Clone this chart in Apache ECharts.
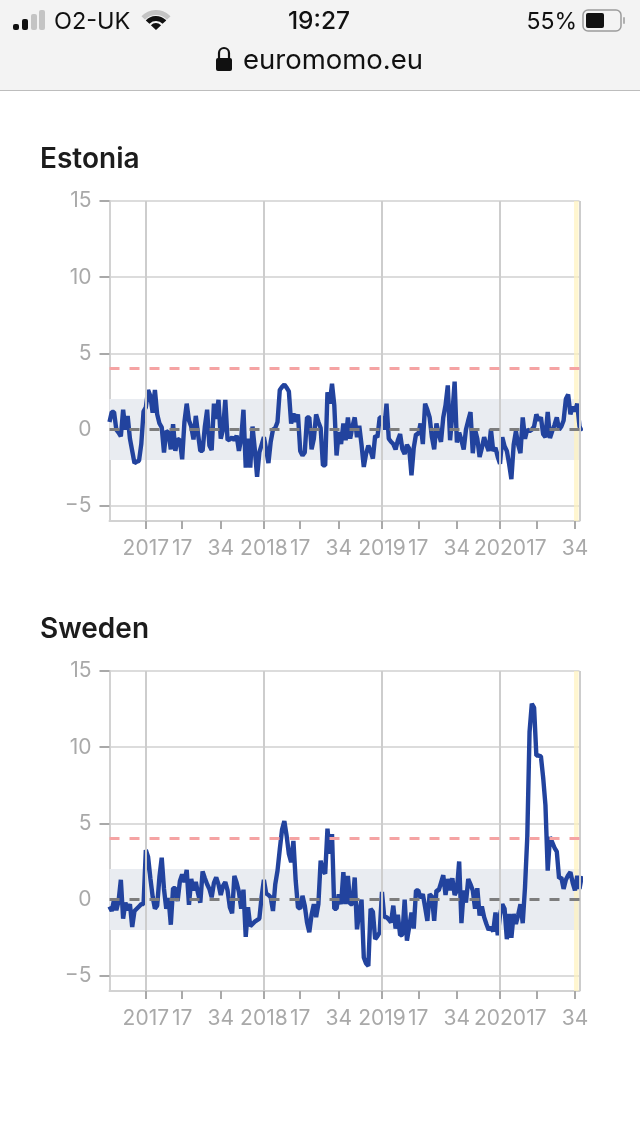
<!DOCTYPE html>
<html>
<head>
<meta charset="utf-8">
<title>euromomo</title>
<script src="https://cdn.jsdelivr.net/npm/echarts@6/dist/echarts.min.js"></script>
<style>
  html, body { margin: 0; padding: 0; background: #fff; }
  #chart { width: 640px; height: 1136px; }
</style>
</head>
<body>
<div id="chart"></div>
<script>
// z-scores per week, first point is 2016 week 37
const estonia = [
  .5,1.15,1.15,0,-.2,-.45,1.3,0,.9,-.6,
  -1.4,-2.2,-2.1,-2.05,-.95,1.2,1.45,2.6,2.2,1.1,
  2.6,1,.4,.15,-1.5,-.1,-.2,-1.3,.35,-1.4,
  -.6,-.7,-1.95,.5,1.7,.6,.2,-.65,.9,-.3,
  -1.4,-1.4,.2,1.3,-1.05,-1.35,1.7,.7,1.95,-.6,
  0,1.95,-.7,-.65,-.5,-.7,-.4,-1.4,-.6,1.3,
  -2.5,-.6,-2.5,.2,-1.3,-3.1,-1.5,-1,-.5,-1.3,
  -2.2,-.8,0,.1,.5,2.6,2.8,2.95,2.75,2.5,
  .4,1.05,.5,1,-1.4,-1.7,-1.5,.8,.8,-1.3,
  -.6,1,.5,.1,-2.35,-2.35,2.45,1.7,3,1.6,
  -1.7,-.15,-.95,.4,-.7,.8,-.6,.2,.8,-.5,
  .25,-1,-2.45,-1.6,-1.05,-1.4,-1.9,-.4,-.5,.8,
  .8,0,1.7,-.6,-.8,-.95,-1.3,-.7,-.3,-1.3,
  -1.6,-1,-1.25,-3,-1.2,-.3,-.3,.4,-.95,1.7,
  1.3,.8,-.5,-1.3,.4,-.3,-.8,.8,1.6,2.9,
  -.7,1,3.15,-.85,-.2,-.7,-1.3,0,.6,1.15,
  -1.55,0,-.6,-1.8,-1.2,-.5,-1,-1.4,0,-1.4,
  -1.2,-1.8,-2.25,-.5,-1.1,-1.4,-2.25,-3.25,-1,-.1,
  -1,-1.55,.8,-.6,0,-.1,0,.2,1,.6,
  .8,-.3,-.5,1.15,-.55,-.1,.3,.8,0,.2,
  .6,2,2.3,1,1.5,1.2,1.7,.2,-.1
];
const sweden = [
  -.45,-.75,0,-.7,-.1,1.3,-1.25,-.2,-.7,-.3,
  -1.8,-.75,-.6,-.45,-.3,-.3,3.25,2.8,1.4,.2,
  -.6,-.4,1.5,2.75,.7,-.6,.1,-1.65,.75,.75,
  -.1,1.2,1.65,1.15,1.95,-.35,1.35,.6,1.15,.4,
  -.2,1.85,1.4,1,.7,.15,1.1,1.45,1,.3,
  .9,1.15,.6,-.5,-.9,1.55,1.1,.5,-.6,.65,
  -2.45,-.5,-1.75,-1.6,-1.45,-1.35,-1.25,.2,1.3,.4,
  .3,.15,-.75,1,1.9,3.3,4.6,5.15,4.2,3,
  2.45,3.85,1.25,-.5,-.6,.25,-.4,-1.5,-2.15,-1,
  -.3,-1.15,-.3,2.55,1.9,1.7,4.65,3,4.3,-.6,
  -.6,.35,-.3,1.8,-.3,1.55,-.3,-.3,1.45,-1.95,
  -.8,0,-3.8,-4.2,-4.35,-.6,-.8,-2.6,-2.4,-2.15,
  .5,-1.15,-1.15,-1.3,-1.5,-.4,-1.9,-1,-2.35,-2.3,
  0,-2.7,-1.8,-.85,-1.9,.6,.6,.1,.35,-.5,
  -1.4,.35,.2,-1.4,.6,.6,1.1,1.6,.3,1.35,
  .6,1.4,.3,.6,2.5,-1.55,.6,-.2,1.35,1,
  .6,-.6,.75,-1.05,-.45,-1.15,-1.6,-2,-1.8,-2.1,
  -.85,-2.35,-1,-.3,-.6,-2.6,-.95,-2.5,-.95,-1.6,
  -1,-.3,-1.55,.8,4.1,11,12.85,12.6,9.45,9.45,
  9.4,8,6.2,1.9,4.1,3.75,3.4,3.15,1.4,1.45,
  .7,1.3,1.6,1.8,1.1,.6,1.55,.7,1.55
];

const weekTicks = [16, 32, 49, 68, 84, 101, 120, 136, 153, 172, 188, 205];
const weekLabels = ['2017', '17', '34', '2018', '17', '34', '2019', '17', '34', '2020', '17', '34'];
const yearStarts = [16, 68, 120, 172];
const yLabels = [-5, 0, 5, 10, 15];
const yGrid = [-5, 5, 10, 15];
const baseline = 0;
const threshold = 4;
const normalBand = [-2, 2];
const currentWeeks = [205, 207];
const lastWeek = 207;

const FONT = 'Inter, "Noto Sans", sans-serif';
const TICK_GREY = '#a9a9a9';
const GRID_GREY = '#dcdcdc';

const panels = [
  { name: 'Estonia', values: estonia, top: 201 },
  { name: 'Sweden', values: sweden, top: 671 }
];

const grids = [], xAxes = [], yAxes = [], titles = [], series = [];

panels.forEach((p, k) => {
  grids.push({ left: 109.5, top: p.top, width: 470, height: 320 });
  titles.push({
    text: p.name, left: 35, top: p.top - 60,
    textStyle: { fontFamily: FONT, fontSize: 28, fontWeight: 600, color: '#1c1c1c' }
  });
  xAxes.push({
    type: 'value', gridIndex: k, min: 0, max: lastWeek,
    axisLine: { show: true, onZero: false, lineStyle: { color: '#d2d2d2', width: 2 } },
    axisTick: { show: true, customValues: weekTicks, length: 8, lineStyle: { color: TICK_GREY, width: 2 } },
    axisLabel: {
      customValues: weekTicks, margin: 17, hideOverlap: false,
      color: TICK_GREY, fontFamily: FONT, fontSize: 21,
      formatter: v => weekLabels[weekTicks.indexOf(v)]
    },
    splitLine: { show: false }
  });
  yAxes.push({
    type: 'value', gridIndex: k, min: -6, max: 15,
    axisLine: { show: true, onZero: false, lineStyle: { color: '#d2d2d2', width: 2 } },
    axisTick: { show: true, customValues: yGrid, length: 10, lineStyle: { color: TICK_GREY, width: 2 } },
    axisLabel: {
      customValues: yLabels, margin: 18, padding: [2, 0, 0, 0],
      color: TICK_GREY, fontFamily: FONT, fontSize: 21,
      formatter: v => String(v).replace('-', '\u2212')
    },
    splitLine: { show: true, lineStyle: { color: GRID_GREY, width: 2 } }
  });

  // year gridlines sit under the band
  series.push({
    type: 'line', xAxisIndex: k, yAxisIndex: k, data: [], z: 1, silent: true,
    markLine: {
      silent: true, symbol: 'none', animation: false, label: { show: false },
      lineStyle: { color: '#cdcdcd', width: 2, type: 'solid' },
      data: yearStarts.concat(lastWeek).map(x => ({ xAxis: x }))
    }
  });
  series.push({
    type: 'line', xAxisIndex: k, yAxisIndex: k, data: [], z: 2, silent: true,
    markArea: {
      silent: true, animation: false, itemStyle: { color: '#e9ecf1' },
      data: [[{ xAxis: 0, yAxis: normalBand[0] }, { xAxis: lastWeek, yAxis: normalBand[1] }]]
    }
  });
  series.push({
    type: 'line', xAxisIndex: k, yAxisIndex: k, data: [], z: 3, silent: true,
    markLine: {
      silent: true, symbol: 'none', animation: false, label: { show: false },
      data: [
        { yAxis: threshold, lineStyle: { color: '#f5a3a3', width: 3, type: [10, 10] } },
        { yAxis: baseline, lineStyle: { color: '#7d7d7d', width: 3, type: [10, 10] } }
      ]
    }
  });
  series.push({
    name: p.name, type: 'line', xAxisIndex: k, yAxisIndex: k, z: 4,
    data: p.values.map((v, i) => [i, v]),
    showSymbol: false, clip: false, animation: false,
    lineStyle: { color: '#22439e', width: 4.4, join: 'bevel' }
  });
  series.push({
    type: 'line', xAxisIndex: k, yAxisIndex: k, data: [], z: 5, silent: true,
    markArea: {
      silent: true, animation: false, itemStyle: { color: 'rgba(255,243,190,0.72)' },
      data: [[{ xAxis: currentWeeks[0] - 0.4, yAxis: 15 }, { xAxis: currentWeeks[1] - 0.4, yAxis: -6 }]]
    }
  });
});

// phone status bar and address bar
const txt = (x, y, text, size, align, weight) => ({
  type: 'text', x, y, z: 20,
  style: {
    text, fill: '#111', font: `${weight || 400} ${size}px ${FONT}`,
    textAlign: align || 'left', textVerticalAlign: 'middle'
  }
});
const bar = (x, y, w, h, fill) => ({
  type: 'rect', z: 20, shape: { x, y, width: w, height: h, r: 2 }, style: { fill }
});
const wifi = (r, r0, fill) => ({
  type: 'sector', z: 20,
  shape: { cx: 156, cy: 30, r, r0, startAngle: -Math.PI * 0.76, endAngle: -Math.PI * 0.24 },
  style: { fill }
});
const chrome = [
  { type: 'rect', z: 19, shape: { x: 0, y: 0, width: 640, height: 90 }, style: { fill: '#f3f3f3' } },
  { type: 'rect', z: 19, shape: { x: 0, y: 90, width: 640, height: 1 }, style: { fill: '#bdbdbd' } },
  bar(13, 24, 6, 6, '#111'), bar(22, 19, 6, 11, '#111'), bar(31, 14, 6, 16, '#c4c4c4'), bar(39, 10, 6, 20, '#c4c4c4'),
  txt(54, 22, 'O2-UK', 23.5),
  wifi(20, 15, '#c4c4c4'), wifi(14, 9, '#111'), wifi(7, 0, '#111'),
  txt(319, 22, '19:27', 24.5, 'center', 500),
  txt(577, 22, '55%', 23, 'right'),
  {
    type: 'rect', z: 20, shape: { x: 583, y: 10, width: 38, height: 21, r: 5 },
    style: { fill: 'none', stroke: '#9c9c9c', lineWidth: 1.5 }
  },
  bar(586, 13, 18, 15, '#111'),
  bar(623, 17, 2, 7, '#b0b0b0'),
  bar(216, 58, 16, 13, '#111'),
  {
    type: 'arc', z: 20, shape: { cx: 224, cy: 53, r: 5, startAngle: Math.PI, endAngle: Math.PI * 2 },
    style: { fill: 'none', stroke: '#111', lineWidth: 2.2 }
  },
  { type: 'line', z: 20, shape: { x1: 219, y1: 53, x2: 219, y2: 59 }, style: { stroke: '#111', lineWidth: 2.2 } },
  { type: 'line', z: 20, shape: { x1: 229, y1: 53, x2: 229, y2: 59 }, style: { stroke: '#111', lineWidth: 2.2 } },
  txt(243, 61, 'euromomo.eu', 27.5)
];

const chart = echarts.init(document.getElementById('chart'), null, { renderer: 'canvas' });
chart.setOption({
  animation: false,
  backgroundColor: '#fff',
  title: titles,
  grid: grids,
  xAxis: xAxes,
  yAxis: yAxes,
  series: series,
  graphic: chrome
});
</script>
</body>
</html>
